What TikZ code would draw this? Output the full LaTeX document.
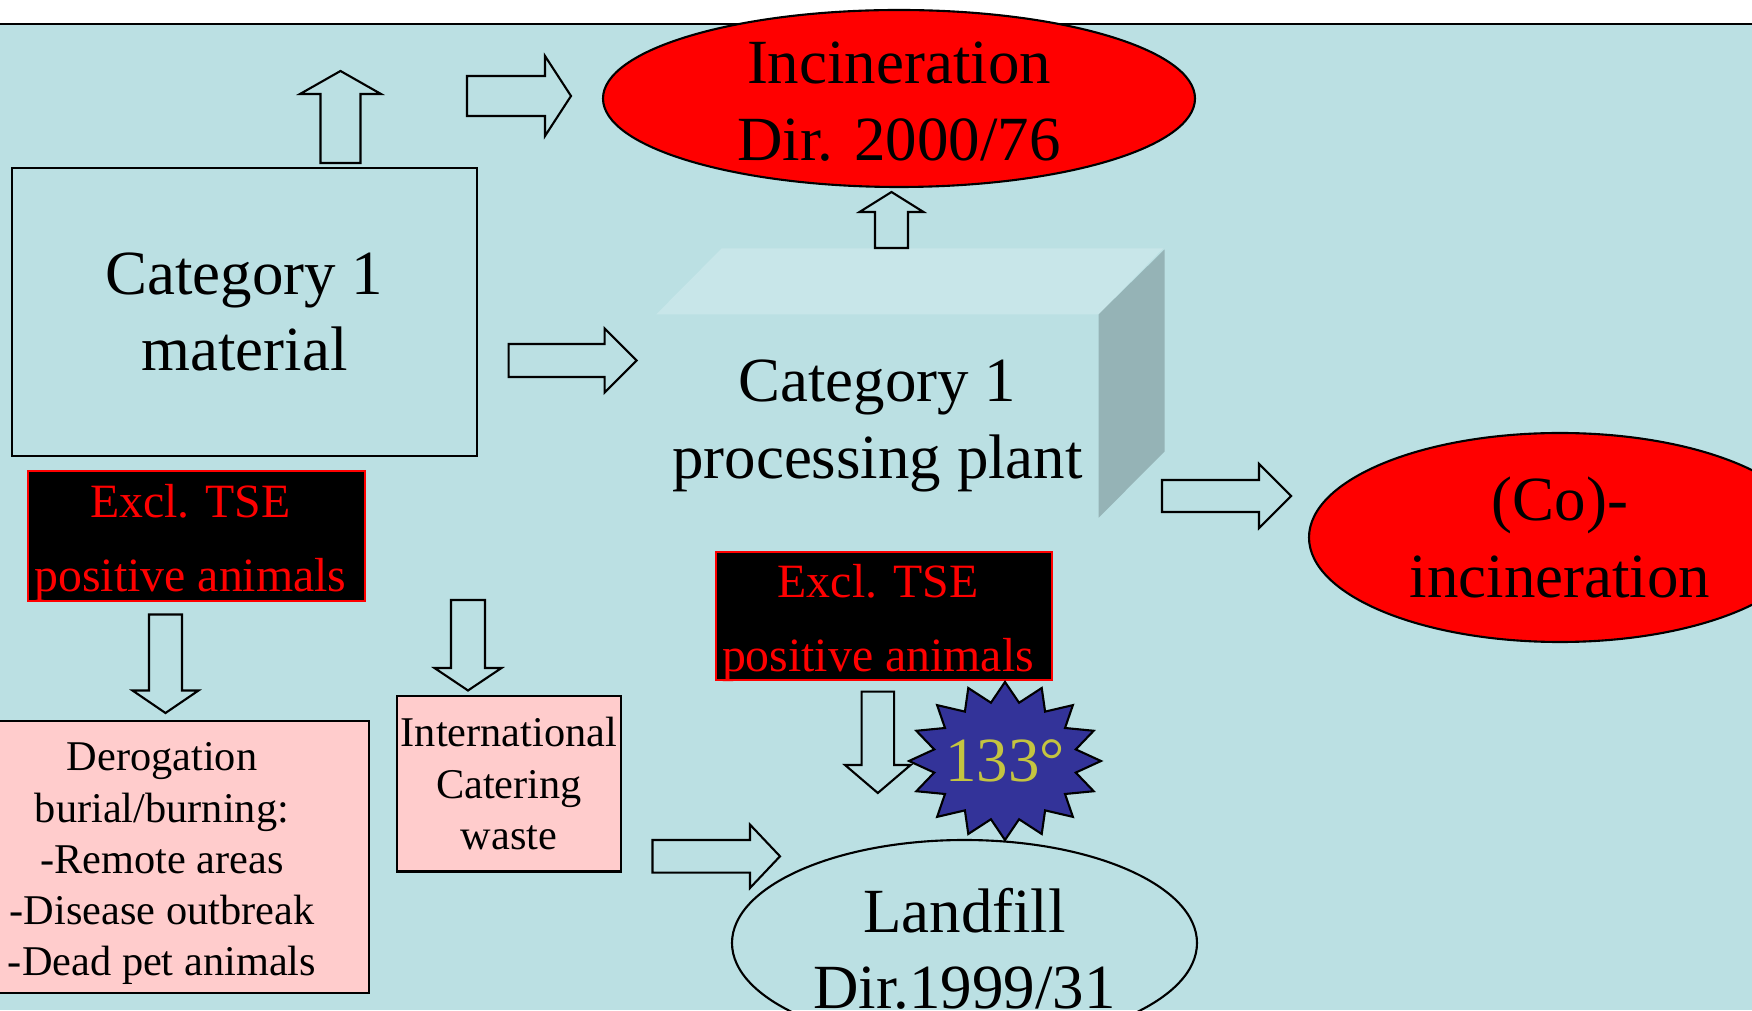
\documentclass[tikz,border=0pt]{standalone}
\usepackage{fontspec}
\setmainfont{Liberation Serif}
\usetikzlibrary{shapes}
\definecolor{lagoon}{RGB}{187,224,227}
\definecolor{lidtop}{RGB}{200,230,233}
\definecolor{lidside}{RGB}{149,179,182}
\definecolor{blush}{RGB}{255,204,204}
\definecolor{burstblue}{RGB}{51,51,153}
\definecolor{burstyellow}{RGB}{196,196,64}
\newcommand{\blockarrow}[6]{
\draw[line width=0.6pt, shift={(#1)}, rotate=#2] (0,-#4/2) -- ({#3-#6},-#4/2) -- ({#3-#6},-#5/2) -- (#3,0) -- ({#3-#6},#5/2) -- ({#3-#6},#4/2) -- (0,#4/2) -- cycle;
}

\begin{document}
\begin{tikzpicture}[
bigfont/.style={font=\fontsize{17.9}{21.7}\selectfont, align=center},
midfont/.style={font=\fontsize{13.6}{20.8}\selectfont, align=center, text=red},
smallfont/.style={font=\fontsize{12.05}{14.6}\selectfont, align=center},
boxline/.style={draw, line width=0.6pt, inner sep=0}]
\pgfmathsetmacro{\topedge}{9.86}
\pgfmathsetmacro{\lidx}{0.66}
\pgfmathsetmacro{\lidy}{0.65}

\useasboundingbox (0,0) rectangle (17.52,10.10);
\fill[lagoon] (0,0) rectangle (17.52,\topedge);
\draw[line width=0.7pt] (0,\topedge) -- (17.52,\topedge);

\node[boxline, bigfont, minimum width=4.65cm, minimum height=2.88cm] (matbox) at (2.445,6.98) {Category 1\\material};

\node[boxline, draw=red, fill=black, minimum width=3.37cm, minimum height=1.30cm] (tseleft) at (1.965,4.74) {};
\node[midfont] (tseleftlabel) at ([xshift=-0.6mm, yshift=-0.7mm]tseleft) {Excl. TSE\\positive animals};
\node[boxline, draw=red, fill=black, minimum width=3.36cm, minimum height=1.28cm] (tsemid) at (8.84,3.94) {};
\node[midfont] (tsemidlabel) at ([xshift=-0.6mm, yshift=-0.7mm]tsemid) {Excl. TSE\\positive animals};

\node[boxline, fill=blush, minimum width=4.14cm, minimum height=2.724cm] (derog) at (1.62,1.532) {};
\node[smallfont] (deroglabel) at ([yshift=-0.7mm]derog) {Derogation\\burial/burning:\\-Remote areas\\-Disease outbreak\\-Dead pet animals};
\node[boxline, fill=blush, smallfont, minimum width=2.24cm, minimum height=1.755cm] (catering) at (5.09,2.2625) {International\\Catering\\waste};

% processing plant as a box
\node[minimum width=4.41cm, minimum height=2.02cm, inner sep=0] (plant) at (8.775,5.94) {};
\fill[lidtop] (plant.north west) -- ++(0.655,0.66) -- ++(4.415,0) -- (plant.north east) -- cycle;
\fill[lidside] (plant.north east) -- ++(\lidx,\lidy) -- ++(0,-2.02) -- (plant.south east) -- cycle;
\node[bigfont] (plantlabel) at ([yshift=-1mm]plant) {Category 1\\processing plant};

\node[ellipse, boxline, fill=red, minimum width=5.92cm, minimum height=1.77cm] (incin) at (8.99,9.115) {};
\node[bigfont] (incinlabel) at ([yshift=-0.3mm]incin) {Incineration\\Dir. 2000/76};
\node[ellipse, boxline, fill=red, minimum width=5.02cm, minimum height=2.09cm] (coinc) at (15.60,4.725) {};
\node[bigfont] (coinclabel) at (coinc) {(Co)-\\incineration};
\node[ellipse, boxline, minimum width=4.65cm, minimum height=2.06cm] (landfill) at (9.645,0.67) {};
\node[bigfont] (landfilllabel) at ([yshift=-0.6mm]landfill) {Landfill\\Dir.1999/31};

\node[star, star points=16, star point ratio=1.33, boxline, fill=burstblue, minimum size=1.58cm, xscale=1.215] (burst) at (10.05,2.49) {};
\node[bigfont, text=burstyellow] (burstlabel) at (burst) {133°};

% block arrows
\coordinate (upmat) at (3.405,8.47);
\blockarrow{upmat}{90}{0.92}{0.40}{0.81}{0.23}
\coordinate (toincin) at (4.67,9.14);
\blockarrow{toincin}{0}{1.04}{0.40}{0.80}{0.26}
\coordinate (upplant) at (8.915,7.62);
\blockarrow{upplant}{90}{0.56}{0.33}{0.64}{0.20}
\coordinate (toplant) at (5.086,6.495);
\blockarrow{toplant}{0}{1.28}{0.33}{0.64}{0.32}
\coordinate (tocoinc) at (11.62,5.14);
\blockarrow{tocoinc}{0}{1.29}{0.32}{0.64}{0.32}
\coordinate (downderog) at (1.655,3.955);
\blockarrow{downderog}{-90}{0.985}{0.33}{0.66}{0.225}
\coordinate (downcater) at (4.68,4.10);
\blockarrow{downcater}{-90}{0.905}{0.34}{0.67}{0.225}
\coordinate (tolandfill) at (6.525,1.537);
\blockarrow{tolandfill}{0}{1.275}{0.326}{0.634}{0.30}
\coordinate (downmid) at (8.778,3.184);
\blockarrow{downmid}{-90}{1.014}{0.325}{0.656}{0.28}

\end{tikzpicture}
\end{document}
